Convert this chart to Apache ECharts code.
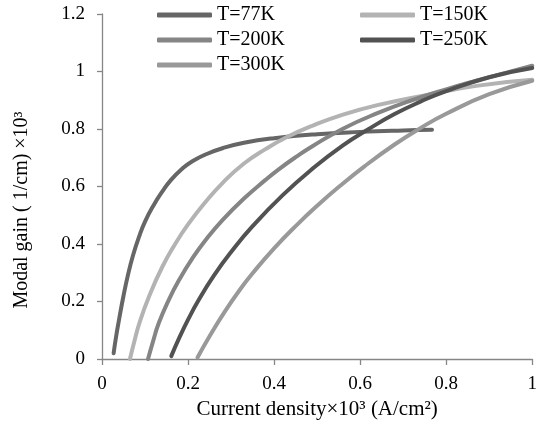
<!DOCTYPE html>
<html>
<head>
<meta charset="utf-8">
<script src="https://cdn.jsdelivr.net/npm/echarts@6/dist/echarts.min.js"></script>
<style>
  html, body { margin: 0; padding: 0; background: #fff; }
  #chart { width: 540px; height: 431px; }
</style>
</head>
<body>
<div id="chart"></div>
<script>
// curves: [current density x10^3, modal gain x10^3]
const t77 = [[0.027,0.02],[0.033,0.08],[0.04,0.14],[0.05,0.22],[0.06,0.29],[0.072,0.36],[0.086,0.425],[0.1,0.478],[0.12,0.535],[0.14,0.582],[0.16,0.622],[0.185,0.66],[0.21,0.688],[0.245,0.714],[0.28,0.733],[0.33,0.752],[0.4,0.768],[0.5,0.782],[0.6,0.79],[0.7,0.795],[0.767,0.797]];
const t150 = [[0.065,0.0],[0.075,0.06],[0.088,0.13],[0.11,0.22],[0.14,0.32],[0.17,0.4],[0.2,0.468],[0.24,0.545],[0.28,0.612],[0.33,0.68],[0.38,0.73],[0.43,0.772],[0.49,0.812],[0.56,0.85],[0.64,0.883],[0.75,0.917],[0.87,0.95],[1.0,0.971]];
const t200 = [[0.107,0.0],[0.118,0.058],[0.132,0.125],[0.155,0.205],[0.18,0.277],[0.21,0.35],[0.24,0.412],[0.28,0.483],[0.33,0.558],[0.38,0.623],[0.41,0.659],[0.45,0.702],[0.49,0.741],[0.56,0.801],[0.64,0.855],[0.72,0.9],[0.8,0.938],[0.87,0.968],[0.94,0.996],[1.0,1.02]];
const t250 = [[0.161,0.01],[0.18,0.075],[0.2,0.137],[0.225,0.206],[0.26,0.29],[0.3,0.372],[0.35,0.462],[0.42,0.57],[0.487,0.659],[0.56,0.743],[0.62,0.8],[0.68,0.852],[0.74,0.895],[0.8,0.932],[0.9,0.98],[1.0,1.012]];
const t300 = [[0.222,0.005],[0.25,0.079],[0.285,0.164],[0.32,0.24],[0.35,0.298],[0.4,0.385],[0.456,0.471],[0.5,0.533],[0.55,0.598],[0.61,0.67],[0.68,0.746],[0.74,0.803],[0.8,0.853],[0.9,0.921],[1.0,0.968]];

const names = ['T=77K', 'T=150K', 'T=200K', 'T=250K', 'T=300K'];
const colors = ['#666666', '#b3b3b3', '#858585', '#525252', '#999999'];
const curves = [t77, t150, t200, t250, t300];

const font = 'Liberation Serif, Times New Roman, serif';
const axisColor = '#868686';

const chart = echarts.init(document.getElementById('chart'));

chart.setOption({
  animation: false,
  grid: { left: 102, right: 4, top: 14, bottom: 72 },
  legend: {
    left: 157,
    top: 5,
    width: 410,
    padding: 0,
    itemGap: 5,
    itemWidth: 55,
    itemHeight: 5,
    data: names.map(n => ({ name: n, icon: 'roundRect' })),
    textStyle: { fontFamily: font, fontSize: 20, color: '#000', width: 138, lineHeight: 20 }
  },
  xAxis: {
    type: 'value',
    min: 0,
    max: 1,
    interval: 0.2,
    name: 'Current density×10³ (A/cm²)',
    nameLocation: 'middle',
    nameGap: 36,
    nameTextStyle: { fontFamily: font, fontSize: 21, color: '#000' },
    axisLine: { lineStyle: { color: axisColor, width: 1.3 } },
    axisTick: { show: true, length: 6, lineStyle: { color: axisColor, width: 1.3 } },
    axisLabel: { fontFamily: font, fontSize: 19, color: '#000', margin: 16 },
    splitLine: { show: false }
  },
  yAxis: {
    type: 'value',
    min: 0,
    max: 1.2,
    interval: 0.2,
    axisLine: { show: true, lineStyle: { color: axisColor, width: 1.3 } },
    axisTick: { show: true, length: 5, lineStyle: { color: axisColor, width: 1.3 } },
    axisLabel: { fontFamily: font, fontSize: 19, color: '#000', margin: 17 },
    splitLine: { show: false }
  },
  graphic: [{
    type: 'text',
    x: 22,
    y: 210,
    rotation: Math.PI / 2,
    style: {
      text: 'Modal gain ( 1/cm) ×10³',
      fontFamily: font,
      fontSize: 20,
      fill: '#000',
      align: 'center',
      verticalAlign: 'middle'
    }
  }],
  series: curves.map((d, i) => ({
    name: names[i],
    type: 'line',
    data: d,
    smooth: 0.5,
    symbol: 'none',
    color: colors[i],
    lineStyle: { width: 4, color: colors[i], cap: 'round' }
  }))
});
</script>
</body>
</html>
